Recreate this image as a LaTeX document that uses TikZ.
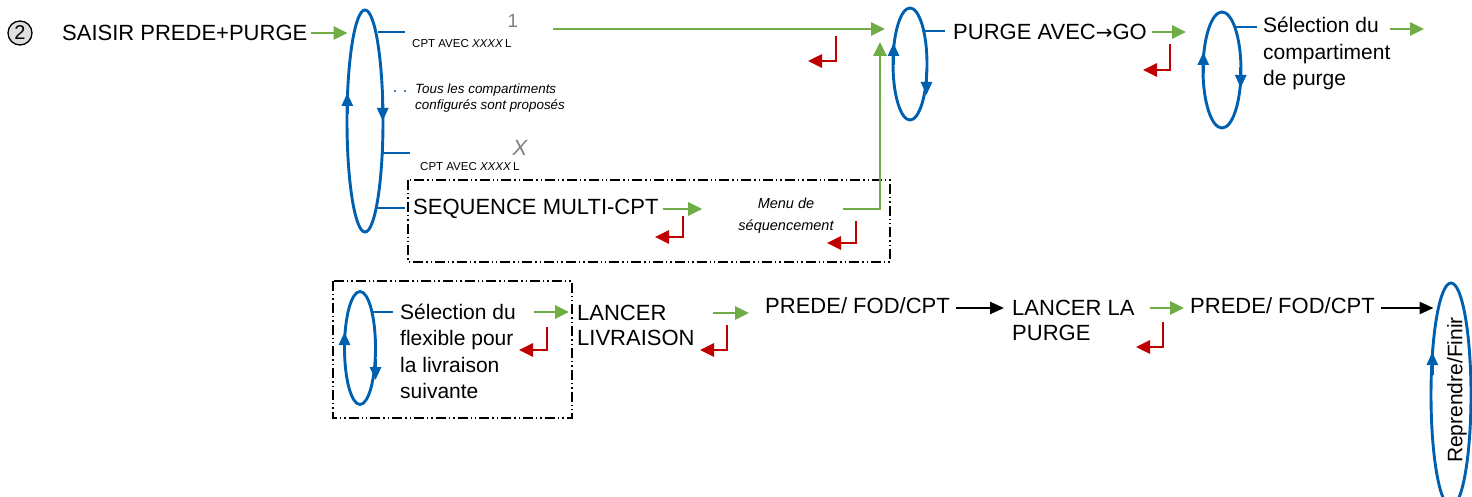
\documentclass[tikz,border=0pt]{standalone}
\usepackage{fontspec}
\setmainfont{Liberation Sans}
\newfontfamily\dvfont{DejaVu Sans}
\usetikzlibrary{arrows.meta,shapes.geometric,calc}
\definecolor{cblue}{RGB}{0,96,176}
\definecolor{cgreen}{RGB}{112,173,71}
\definecolor{cred}{RGB}{192,0,0}
\definecolor{cgray}{RGB}{128,128,128}
\tikzset{
  txt/.style={inner sep=0pt, anchor=west, align=left, font=\fontsize{21}{26.5}\selectfont},
  capt/.style={inner sep=0pt, anchor=west, align=left, font=\fontsize{22}{25.5}\selectfont},
  small/.style={inner sep=0pt, anchor=west, font=\fontsize{11.5}{13}\selectfont},
  note/.style={inner sep=0pt, anchor=west, align=left, font=\fontsize{13.4}{16}\selectfont\itshape},
  loope/.style={ellipse, draw=cblue, line width=2.9pt, inner sep=0pt},
  opt/.style={draw=cblue, line width=2.9pt},
  garrow/.style={draw=cgreen, line width=2.8pt, -{Triangle[length=14pt,width=13pt]}},
  barrow/.style={draw=black, line width=2.5pt, -{Triangle[length=14pt,width=12pt]}},
  ltip/.style={draw=cblue, line width=2.7pt, -{Triangle[length=13pt,width=11pt]}},
  ret/.style={draw=cred, line width=2.8pt, -{Triangle[length=14pt,width=13pt]}},
  ddbox/.style={draw=black, line width=1.4pt, dash pattern=on 10pt off 3pt on 1.4pt off 3pt on 1.4pt off 3pt}
}
\begin{document}
\begin{tikzpicture}[x=1pt,y=-1pt]
\useasboundingbox (0,0) rectangle (1472,497);

% ---- top row ----
\node[circle, draw, fill=gray!25, line width=1.3pt, inner sep=0pt, minimum size=24pt,
      font=\fontsize{20}{20}\selectfont] (n2) at (20,33) {2};
\node[capt] (saisir) at (62,33) {SAISIR PREDE+PURGE};
\node[loope, minimum width=36pt, minimum height=222pt] (L1) at (365,121) {};
\draw[garrow] ([xshift=3pt]saisir.east) -- ([xshift=2pt]L1.west |- saisir.east);
\draw[ltip] (347.3,114) -- (347.3,93);
\draw[ltip] (382.7,100) -- (382.7,121);

% option 1
\coordinate (a1) at (378,32);
\coordinate (b1) at (405,32);
\draw[opt] (a1) -- (b1);
\node[small] (cpt1) at (412,44) {CPT AVEC \textit{XXXX}\,L};
\node[inner sep=0pt, text=cgray, font=\fontsize{19}{19}\selectfont] (one) at (513,21) {1};
\coordinate (o1) at (553,29);

% note
\fill[cblue] (395,91) circle (1.2pt) (405,91) circle (1.2pt);
\node[note] (tous) at (415,98) {Tous les compartiments\\configurés sont proposés};

% option X
\coordinate (a2) at (383,153);
\coordinate (b2) at (410,153);
\draw[opt] (a2) -- (b2);
\node[inner sep=0pt, text=cgray, font=\fontsize{22}{22}\selectfont\itshape] (xx) at (520,148) {X};
\node[small] (cpt2) at (420,167) {CPT AVEC \textit{XXXX}\,L};

% sequence multi
\coordinate (a3) at (377,208);
\coordinate (b3) at (405,208);
\draw[opt] (a3) -- (b3);
\draw[ddbox] (408,180) rectangle (890,262);
\node[capt] (seq) at (413,209) {SEQUENCE MULTI-CPT};
\node[inner sep=0pt, align=center, font=\fontsize{14.5}{22}\selectfont\itshape] (menu) at (786,216) {Menu de\\séquencement};
\draw[garrow] ([xshift=4pt]seq.east) -- ([xshift=-36pt]menu.west |- seq.east);
\draw[ret] (683,216) |- (655,237);
\draw[ret] (856,221) |- (827,243);

% loop 2
\node[loope, minimum width=34pt, minimum height=112pt] (L2) at (910,64) {};
\coordinate (m1) at (843,209);
\draw[garrow] (m1) -| ([xshift=-30pt]L2.center |- 0,42);
\draw[garrow] (o1) -- ([xshift=-25pt]L2.center |- o1);
\draw[ret] (836,36) |- (808,61);
\draw[ltip] (893.5,65) -- (893.5,43);
\draw[ltip] (926.5,72) -- (926.5,95);

\coordinate (a4) at (925,31);
\node[capt] (purge) at (953,32) {PURGE AVEC{\dvfont\fontsize{20}{20}\selectfont →}GO};
\draw[opt] (a4) -- ([xshift=-8pt]purge.west |- a4);
\draw[garrow] ([xshift=5pt]purge.east) -- ++(34,0);
\draw[ret] (1170,44) |- (1143,70);

% loop 3
\node[loope, minimum width=38pt, minimum height=116pt] (L3) at (1222,70) {};
\draw[ltip] (1203.3,73) -- (1203.3,52);
\draw[ltip] (1240.7,67) -- (1240.7,88);
\node[txt] (selc) at (1263,53.5) {Sélection du\\compartiment\\de purge};
\coordinate (a5) at (1236,27);
\draw[opt] (a5) -- ([xshift=-6pt]selc.west |- a5);
\coordinate (g5) at (1390,29);
\draw[garrow] (g5) -- ++(34,0);

% ---- bottom row ----
\draw[ddbox] (333,281) rectangle (572,418);
\node[loope, minimum width=31pt, minimum height=113pt] (L4) at (360,348) {};
\draw[ltip] (344.5,353) -- (344.5,332);
\draw[ltip] (375.5,359) -- (375.5,380);
\node[txt] (self) at (400,351.5) {Sélection du\\flexible pour\\la livraison\\suivante};
\coordinate (a6) at (372,312);
\draw[opt] (a6) -- ([xshift=-7pt]self.west |- a6);
\coordinate (g6) at (534,312);
\node[capt] (lancer) at (577,325.5) {LANCER\\LIVRAISON};
\draw[garrow] (g6) -- ([xshift=-8pt]lancer.west |- g6);
\draw[ret] (547,327) |- (519,350);

\node[capt] (prede1) at (765,306) {PREDE/ FOD/CPT};
\draw[garrow] (713,313) -- ([xshift=-16pt]prede1.west |- 0,313);
\draw[ret] (727,325) |- (700,350);

\node[capt] (lancerp) at (1012,320.5) {LANCER LA\\PURGE};
\draw[barrow] ([xshift=6pt]prede1.east |- 0,308) -- ([xshift=-8pt]lancerp.west |- 0,308);

\node[capt] (prede2) at (1190,306) {PREDE/ FOD/CPT};
\draw[garrow] (1150,308) -- ([xshift=-6pt]prede2.west |- 0,308);
\draw[ret] (1163,322) |- (1136,347);

\node[loope, minimum width=40pt, minimum height=224pt] (L5) at (1451,395) {};
\draw[barrow] ([xshift=6pt]prede2.east |- 0,308) -- ([xshift=4pt]L5.west |- 0,308);
\draw[ltip] (1432.3,375) -- (1432.3,352);
\node[inner sep=0pt, rotate=90, font=\fontsize{21}{21}\selectfont] (rep) at (1457,390) {Reprendre/Finir};
\end{tikzpicture}
\end{document}
